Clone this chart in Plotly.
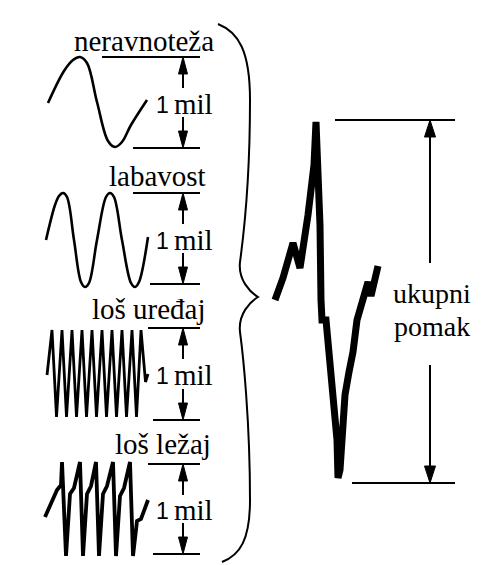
import plotly.graph_objects as go

W, H = 499, 565

# ---- labels ----
panel_labels = ["neravnoteža", "labavost", "loš uređaj", "loš ležaj"]
label_x = [144, 157, 149, 163]
label_y = [41, 176, 309, 444]
unit_number = "1"
unit_word = "mil"
total_label = ["ukupni", "pomak"]

# ---- per-panel scale bars (top/bottom reference lines, px) ----
bar_top_y = [57, 193, 328, 464]
bar_bot_y = [148, 284, 420, 554]
bar_top_x0 = [102, 133, 148, 148]
bar_bot_x0 = [133, 150, 153, 153]
bar_x1 = 200
arrow_x = 183

wave1_x = [48, 64, 73, 80, 87, 97, 108, 115, 122, 131, 147]
wave1_y = [103, 71, 60, 57, 63, 102, 141, 147, 142, 125, 100]

wave2_x = [46, 55, 59, 63, 67, 74, 81, 85, 89, 97, 106, 110, 114, 122, 131, 135, 139, 148]
wave2_y = [240, 205, 196, 193, 197, 240, 282, 287, 283, 240, 197, 193, 197, 240, 283, 287, 282, 237]

wave3_x = [47, 52, 56.5, 62, 66.5, 72, 76.5, 82, 86.5, 92, 96.5, 102, 106.5, 112, 116.5,
           122, 126.5, 132, 136.5, 141, 145.5, 148]
wave3_y = [375, 330, 417, 330, 417, 330, 417, 330, 417, 330, 417, 330, 417, 330, 417,
           330, 417, 330, 417, 330, 382, 374]

wave4_x = [45, 52, 57, 61, 62, 66, 70, 74, 80, 83, 87, 91, 96, 99, 103, 107, 113, 116, 120, 124, 130, 133, 137, 141, 148]
wave4_y = [517, 500, 490, 485, 462, 556, 494, 488, 462, 556, 494, 486, 462, 556, 494, 486, 462, 556, 496, 488, 462, 556, 521, 519, 500]

total_x = [275, 283, 293, 297, 300, 308, 314, 316, 318, 320, 321, 322, 326, 328, 331, 334, 337, 338, 340, 342, 345, 349, 353, 357, 361, 365, 368, 371, 374, 378]
total_y = [300, 278, 243, 262, 268, 215, 165, 122, 165, 225, 300, 320, 320, 345, 372, 400, 440, 478, 470, 440, 395, 372, 352, 320, 305, 292, 282, 296, 284, 266]

# ---- total displacement bar ----
tot_top_y, tot_bot_y = 120, 483
tot_top_x0, tot_bot_x0, tot_x1 = 335, 352, 455
tot_arrow_x = 430

fig = go.Figure()

def add_wave(xs, ys, width, shape="linear"):
    fig.add_trace(go.Scatter(x=xs, y=ys, mode="lines",
                             line=dict(color="black", width=width, shape=shape, smoothing=1.0),
                             hoverinfo="skip", showlegend=False))

add_wave(wave1_x, wave1_y, 2.6, "spline")
add_wave(wave2_x, wave2_y, 2.6, "spline")
add_wave(wave3_x, wave3_y, 2.8)
add_wave(wave4_x, wave4_y, 3.8)
add_wave(total_x, total_y, 7)

shapes = []

def hline(x0, x1, y, w=2):
    shapes.append(dict(type="line", x0=x0, x1=x1, y0=y, y1=y,
                       line=dict(color="black", width=w)))

def vline(x, y0, y1, w=2):
    shapes.append(dict(type="line", x0=x, x1=x, y0=y0, y1=y1,
                       line=dict(color="black", width=w)))

def head(x, tip, direction, hw, hl):
    base = tip + hl * direction
    shapes.append(dict(type="path",
                       path=f"M {x},{tip} L {x-hw},{base} L {x+hw},{base} Z",
                       fillcolor="black", line=dict(color="black", width=1)))

for i in range(4):
    T, B = bar_top_y[i], bar_bot_y[i]
    hline(bar_top_x0[i], bar_x1, T)
    hline(bar_bot_x0[i], bar_x1, B)
    vline(arrow_x, T + 10, T + 31)
    vline(arrow_x, B - 31, B - 10)
    head(arrow_x, T, 1, 4.5, 17)
    head(arrow_x, B, -1, 4.5, 17)

hline(tot_top_x0, tot_x1, tot_top_y)
hline(tot_bot_x0, tot_x1, tot_bot_y)
vline(tot_arrow_x, tot_top_y + 10, 263)
vline(tot_arrow_x, 365, tot_bot_y - 10)
head(tot_arrow_x, tot_top_y, 1, 5.5, 17)
head(tot_arrow_x, tot_bot_y, -1, 5.5, 17)

# curly brace
shapes.append(dict(type="path",
                   path=("M 218,24 C 238,32 250,50 250,100 C 250,180 243,240 240,262 "
                         "C 238,280 250,292 258,297 C 250,302 238,314 240,332 "
                         "C 243,354 250,420 250,500 C 250,540 240,555 222,562"),
                   line=dict(color="black", width=2)))

annotations = []
serif = "Liberation Serif"
sans = "Liberation Sans"

for t, x, y in zip(panel_labels, label_x, label_y):
    annotations.append(dict(x=x, y=y, text=t, showarrow=False, xanchor="center", yanchor="middle",
                            font=dict(family=serif, size=29, color="black")))

for i in range(4):
    cy = (bar_top_y[i] + bar_bot_y[i]) / 2 + 1
    annotations.append(dict(x=171, y=cy + 1, text=unit_number, showarrow=False, xanchor="right",
                            yanchor="middle", font=dict(family=sans, size=23, color="black")))
    annotations.append(dict(x=172, y=cy, text=unit_word, showarrow=False, xanchor="left",
                            yanchor="middle", font=dict(family=serif, size=29, color="black")))

annotations.append(dict(x=432, y=293, text=total_label[0], showarrow=False, xanchor="center",
                        yanchor="middle", font=dict(family=serif, size=28, color="black")))
annotations.append(dict(x=432, y=326, text=total_label[1], showarrow=False, xanchor="center",
                        yanchor="middle", font=dict(family=serif, size=28, color="black")))

fig.update_layout(
    width=W, height=H, margin=dict(l=0, r=0, t=0, b=0),
    paper_bgcolor="white", plot_bgcolor="white",
    xaxis=dict(range=[0, W], visible=False, fixedrange=True),
    yaxis=dict(range=[H, 0], visible=False, fixedrange=True),
    shapes=shapes, annotations=annotations, showlegend=False,
)

fig.write_html("out.html", config={"displayModeBar": False},
               post_script="document.body.style.margin='0';document.body.style.overflow='hidden';")
